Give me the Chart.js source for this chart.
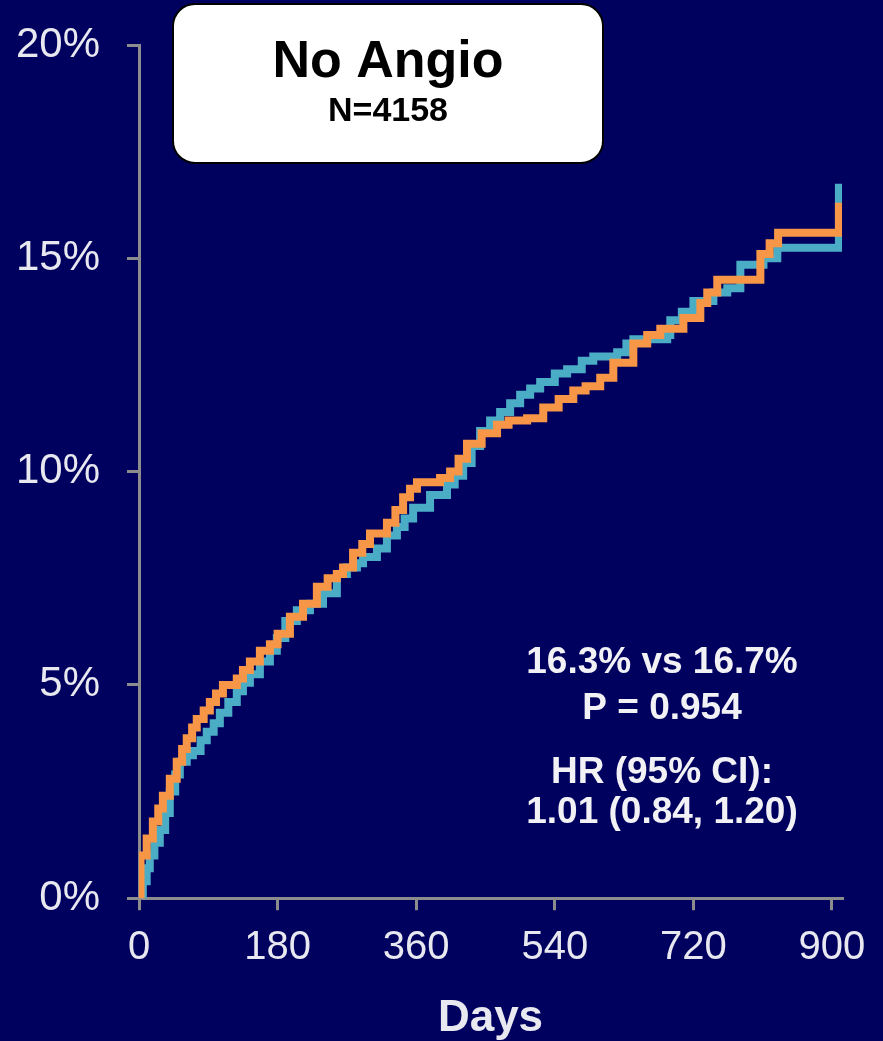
<!DOCTYPE html>
<html>
<head>
<meta charset="utf-8">
<script src="https://cdn.jsdelivr.net/npm/chart.js@4.4.1/dist/chart.umd.min.js"></script>
<style>
  html, body { margin: 0; padding: 0; background: #00005f; }
  canvas { display: block; }
</style>
</head>
<body>
<canvas id="km-chart" width="883" height="1041"></canvas>
<script>
// tick values
const dayTicks = [0, 180, 360, 540, 720, 900];
const pctTicks = [0, 5, 10, 15, 20];

// orange curve
const orangeDays = [0, 2, 10, 18, 25, 31, 40, 49, 56, 62, 69, 75, 84, 92, 100, 109, 127, 135, 144, 157, 170, 180, 196, 213, 231, 245, 257, 265, 278, 290, 300, 322, 333, 343, 352, 361, 391, 404, 415, 426, 445, 465, 480, 504, 525, 545, 564, 580, 599, 616, 642, 660, 677, 707, 729, 738, 751, 807, 819, 830, 909];
const orangePct = [0, 1.0, 1.4, 1.8, 2.1, 2.4, 2.8, 3.2, 3.5, 3.75, 4.0, 4.2, 4.4, 4.6, 4.8, 5.0, 5.15, 5.35, 5.55, 5.8, 5.95, 6.2, 6.6, 6.9, 7.3, 7.5, 7.6, 7.75, 8.1, 8.3, 8.55, 8.8, 9.1, 9.4, 9.6, 9.75, 9.85, 10.0, 10.3, 10.65, 10.9, 11.1, 11.2, 11.25, 11.5, 11.7, 11.9, 12.0, 12.2, 12.55, 13.0, 13.2, 13.35, 13.6, 13.95, 14.2, 14.5, 15.1, 15.35, 15.6, 16.3];

// teal curve
const tealDays = [0, 5, 10, 14, 20, 27, 34, 40, 47, 53, 62, 70, 80, 88, 97, 105, 116, 127, 135, 144, 157, 170, 179, 190, 205, 222, 239, 257, 270, 283, 291, 309, 322, 335, 345, 356, 378, 400, 410, 421, 432, 443, 456, 469, 482, 495, 508, 521, 540, 556, 575, 590, 621, 633, 642, 686, 690, 705, 720, 746, 764, 781, 811, 829, 909];
const tealPct = [0, 0.4, 0.7, 1.0, 1.3, 1.6, 2.0, 2.5, 2.9, 3.2, 3.35, 3.45, 3.7, 3.9, 4.1, 4.35, 4.6, 4.85, 5.05, 5.25, 5.55, 5.8, 6.1, 6.5, 6.75, 6.9, 7.15, 7.6, 7.75, 7.85, 8.0, 8.2, 8.5, 8.7, 8.9, 9.15, 9.45, 9.7, 9.9, 10.2, 10.6, 10.95, 11.2, 11.4, 11.6, 11.8, 11.95, 12.1, 12.3, 12.4, 12.6, 12.7, 12.8, 13.0, 13.1, 13.2, 13.55, 13.75, 14.0, 14.2, 14.3, 14.85, 15.0, 15.25, 16.75];

const statLines = ['16.3% vs 16.7%', 'P = 0.954', 'HR (95% CI):', '1.01 (0.84, 1.20)'];

const toPoints = (xs, ys) => xs.map((x, i) => ({ x: x, y: ys[i] }));

const FONT = "'Liberation Sans', Arial, sans-serif";
const AXIS_GRAY = '#8c8c8c';
const LABEL = '#e8e8f0';

const background = {
  id: 'background',
  beforeDraw(chart) {
    const c = chart.ctx;
    c.save();
    c.fillStyle = '#00005f';
    c.fillRect(0, 0, chart.width, chart.height);
    c.restore();
  }
};

const annotations = {
  id: 'annotations',
  afterDraw(chart) {
    const c = chart.ctx;
    c.save();
    // title box
    c.beginPath();
    c.roundRect(173, 4, 430, 159, 22);
    c.fillStyle = '#ffffff';
    c.fill();
    c.lineWidth = 2;
    c.strokeStyle = '#000000';
    c.stroke();
    c.fillStyle = '#000000';
    c.textAlign = 'center';
    c.textBaseline = 'alphabetic';
    c.font = 'bold 52px ' + FONT;
    c.fillText('No Angio', 388, 77);
    c.font = 'bold 34px ' + FONT;
    c.fillText('N=4158', 388, 121);

    // stats text
    c.fillStyle = '#f2f2f6';
    c.font = 'bold 37px ' + FONT;
    const baselines = [673, 719, 783, 823];
    statLines.forEach((t, i) => c.fillText(t, 662, baselines[i]));
    c.restore();
  }
};

const ctx = document.getElementById('km-chart').getContext('2d');
const KMChart = new Chart(ctx, {
  type: 'line',
  data: {
    datasets: [{
      data: toPoints(orangeDays, orangePct),
      borderColor: '#f79646',
      borderWidth: 8,
      stepped: true,
      pointRadius: 0,
      fill: false
    }, {
      data: toPoints(tealDays, tealPct),
      borderColor: '#4bacc6',
      borderWidth: 8,
      stepped: true,
      pointRadius: 0,
      fill: false
    }]
  },
  options: {
    responsive: false,
    animation: false,
    layout: {
      padding: { left: 17, right: 41, top: 45, bottom: -4 }
    },
    scales: {
      x: {
        type: 'linear',
        min: 0,
        max: 913,
        afterBuildTicks: axis => {
          axis.ticks = dayTicks.map(v => ({ value: v }));
        },
        grid: {
          drawOnChartArea: false,
          color: AXIS_GRAY,
          lineWidth: 3,
          tickLength: 12
        },
        border: { color: AXIS_GRAY, width: 3 },
        ticks: {
          color: LABEL,
          padding: 14,
          maxRotation: 0,
          font: { family: FONT, size: 40 }
        },
        title: {
          display: true,
          text: 'Days',
          color: LABEL,
          padding: { top: 6, bottom: 0 },
          font: { family: FONT, size: 44, weight: 'bold' }
        }
      },
      y: {
        min: 0,
        max: 20,
        afterBuildTicks: axis => {
          axis.ticks = pctTicks.map(v => ({ value: v }));
        },
        afterFit: axis => {
          axis.width = 122;
          axis.paddingTop = 0;
          axis.paddingBottom = 0;
        },
        grid: {
          drawOnChartArea: false,
          color: AXIS_GRAY,
          lineWidth: 3,
          tickLength: 12
        },
        border: { color: AXIS_GRAY, width: 3 },
        ticks: {
          color: LABEL,
          padding: 27,
          font: { family: FONT, size: 42 },
          callback: function (value) {
            return value + '%';
          }
        }
      }
    },
    plugins: {
      legend: { display: false },
      tooltip: { enabled: false }
    }
  },
  plugins: [background, annotations]
});
</script>
</body>
</html>
